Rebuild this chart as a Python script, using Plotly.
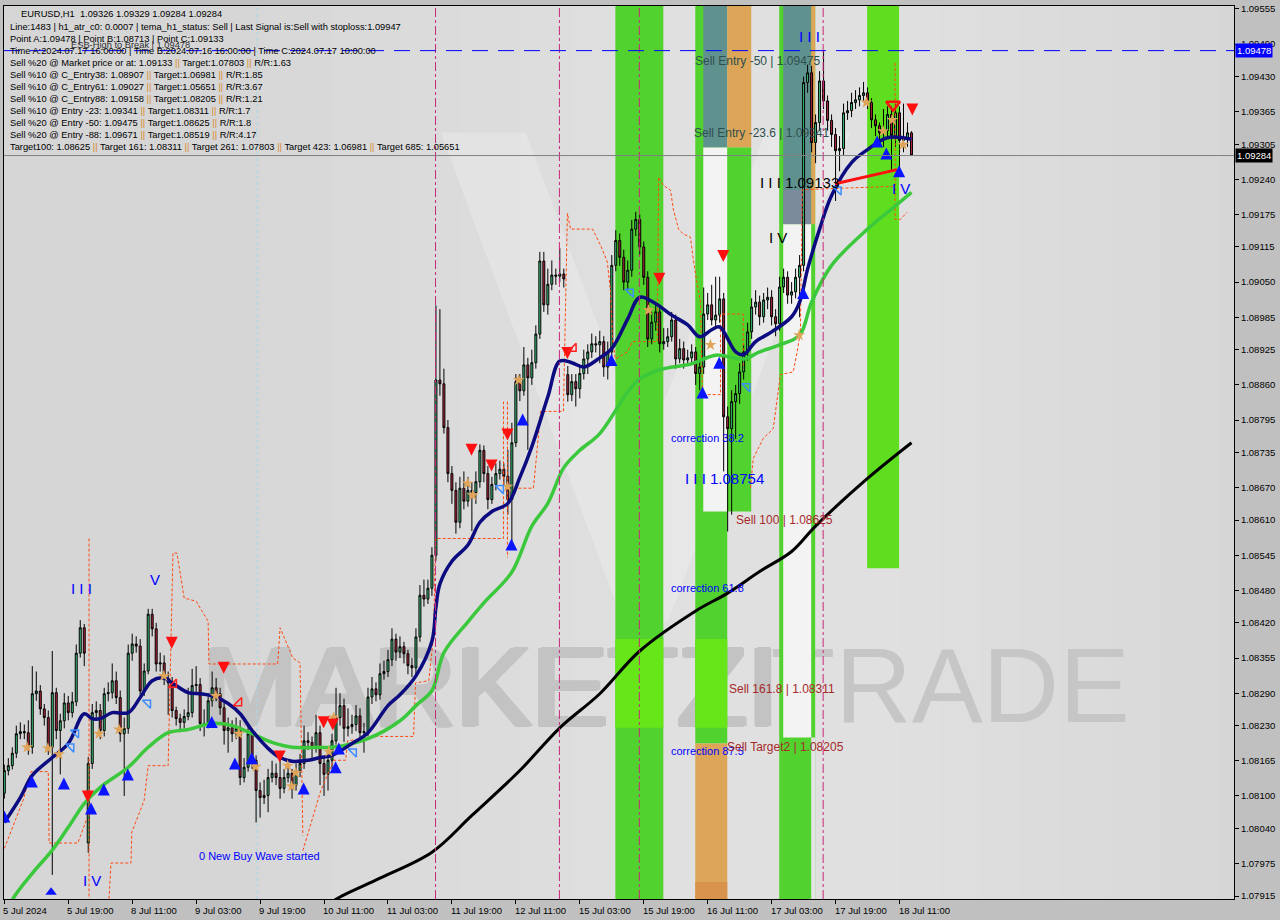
import plotly.graph_objects as go

# ---------------- data ----------------
opens = [1.08105,1.08147,1.08156,1.08179,1.08215,1.08219,1.08217,1.08190,1.08289,1.08294,
 1.08261,1.08245,1.08190,1.08291,1.08221,1.08239,1.08272,1.08254,1.08274,1.08364,
 1.08411,1.08013,1.08160,1.08254,1.08258,1.08221,1.08289,1.08291,1.08313,1.08282,
 1.08215,1.08225,1.08364,1.08381,1.08377,1.08294,1.08331,1.08436,1.08409,1.08344,
 1.08346,1.08318,1.08309,1.08258,1.08243,1.08236,1.08247,1.08254,1.08304,1.08306,
 1.08234,1.08232,1.08276,1.08300,1.08289,1.08263,1.08221,1.08226,1.08215,1.08225,
 1.08134,1.08153,1.08215,1.08166,1.08110,1.08097,1.08101,1.08134,1.08142,1.08134,
 1.08114,1.08134,1.08142,1.08120,1.08147,1.08160,1.08202,1.08199,1.08190,1.08217,
 1.08160,1.08140,1.08166,1.08202,1.08245,1.08267,1.08225,1.08228,1.08232,1.08248,
 1.08217,1.08219,1.08283,1.08298,1.08287,1.08326,1.08330,1.08352,1.08390,1.08366,
 1.08376,1.08363,1.08341,1.08337,1.08394,1.08471,1.08464,1.08484,1.08545,1.08869,
 1.08862,1.08781,1.08696,1.08665,1.08606,1.08669,1.08645,1.08665,1.08661,1.08681,
 1.08739,1.08696,1.08648,1.08676,1.08696,1.08704,1.08691,1.08648,1.08753,1.08866,
 1.08849,1.08897,1.08873,1.08901,1.08954,1.09089,1.09008,1.09046,1.09063,1.09061,
 1.09065,1.08879,1.08842,1.08866,1.08853,1.08881,1.08908,1.08921,1.08936,1.08934,
 1.08940,1.08893,1.08921,1.09081,1.09127,1.09096,1.09050,1.09072,1.09148,1.09166,
 1.09115,1.09059,1.08945,1.08976,1.08995,1.08936,1.08940,1.08949,1.08980,1.08908,
 1.08927,1.08906,1.08910,1.08921,1.08881,1.08893,1.08991,1.09008,1.08980,1.08989,
 1.09019,1.08801,1.08779,1.08829,1.08844,1.08884,1.08921,1.08958,1.09004,1.09013,
 1.08986,1.09017,1.09022,1.08986,1.08973,1.09041,1.09059,1.09026,1.09032,1.09059,
 1.09081,1.09419,1.09437,1.09308,1.09345,1.09422,1.09385,1.09349,1.09323,1.09293,
 1.09297,1.09363,1.09367,1.09382,1.09387,1.09395,1.09400,1.09382,1.09350,1.09339,
 1.09326,1.09330,1.09360,1.09321,1.09363,1.09312,1.09317,1.09326]
highs = [1.08158,1.08170,1.08190,1.08230,1.08236,1.08232,1.08240,1.08340,1.08330,1.08305,
 1.08270,1.08258,1.08368,1.08300,1.08252,1.08290,1.08285,1.08292,1.08380,1.08425,
 1.08418,1.08172,1.08270,1.08275,1.08270,1.08300,1.08310,1.08345,1.08330,1.08295,
 1.08245,1.08380,1.08400,1.08395,1.08390,1.08345,1.08446,1.08446,1.08420,1.08365,
 1.08360,1.08330,1.08320,1.08265,1.08252,1.08260,1.08300,1.08335,1.08340,1.08318,
 1.08260,1.08290,1.08330,1.08318,1.08300,1.08275,1.08245,1.08240,1.08245,1.08240,
 1.08170,1.08232,1.08225,1.08175,1.08125,1.08130,1.08150,1.08165,1.08160,1.08180,
 1.08150,1.08158,1.08150,1.08160,1.08178,1.08230,1.08218,1.08210,1.08250,1.08230,
 1.08170,1.08180,1.08215,1.08300,1.08290,1.08280,1.08262,1.08250,1.08268,1.08262,
 1.08235,1.08300,1.08320,1.08310,1.08345,1.08350,1.08370,1.08410,1.08400,1.08395,
 1.08385,1.08370,1.08355,1.08410,1.08490,1.08500,1.08500,1.08560,1.09007,1.09000,
 1.08890,1.08795,1.08710,1.08680,1.08690,1.08700,1.08690,1.08680,1.08700,1.08750,
 1.08748,1.08710,1.08690,1.08715,1.08720,1.08715,1.08740,1.08790,1.08880,1.08880,
 1.08930,1.08910,1.08925,1.08970,1.09106,1.09106,1.09075,1.09090,1.09075,1.09113,
 1.09075,1.08895,1.08880,1.08880,1.08895,1.08925,1.08935,1.08955,1.08950,1.08960,
 1.08950,1.08940,1.09100,1.09146,1.09140,1.09110,1.09090,1.09165,1.09180,1.09175,
 1.09125,1.09070,1.08995,1.09010,1.09005,1.08965,1.08965,1.08995,1.08990,1.08945,
 1.08940,1.08925,1.08935,1.08930,1.08905,1.09040,1.09030,1.09045,1.09060,1.09060,
 1.09030,1.08820,1.08850,1.08860,1.08900,1.08935,1.08975,1.09020,1.09035,1.09025,
 1.09030,1.09040,1.09035,1.09000,1.09060,1.09075,1.09070,1.09050,1.09075,1.09100,
 1.09430,1.09452,1.09450,1.09360,1.09440,1.09478,1.09395,1.09360,1.09335,1.09320,
 1.09380,1.09385,1.09400,1.09405,1.09410,1.09420,1.09410,1.09390,1.09360,1.09345,
 1.09370,1.09375,1.09375,1.09380,1.09375,1.09380,1.09345,1.09329]
lows = [1.08095,1.08138,1.08149,1.08170,1.08205,1.08205,1.08176,1.08178,1.08276,1.08250,
 1.08230,1.08176,1.07954,1.08205,1.08140,1.08225,1.08240,1.08245,1.08266,1.08356,
 1.08340,1.07995,1.08150,1.08240,1.08205,1.08210,1.08275,1.08280,1.08270,1.08200,
 1.08100,1.08215,1.08350,1.08365,1.08280,1.08285,1.08325,1.08395,1.08330,1.08330,
 1.08305,1.08250,1.08245,1.08230,1.08222,1.08225,1.08240,1.08245,1.08290,1.08220,
 1.08210,1.08225,1.08265,1.08275,1.08250,1.08195,1.08180,1.08200,1.08205,1.08120,
 1.08125,1.08145,1.08150,1.08051,1.08060,1.08085,1.08070,1.08125,1.08120,1.08095,
 1.08105,1.08125,1.08095,1.08110,1.08135,1.08150,1.08185,1.08170,1.08180,1.08120,
 1.08100,1.08110,1.08150,1.08195,1.08230,1.08200,1.08210,1.08215,1.08220,1.08205,
 1.08180,1.08210,1.08270,1.08275,1.08278,1.08315,1.08320,1.08340,1.08350,1.08355,
 1.08345,1.08325,1.08320,1.08325,1.08385,1.08450,1.08455,1.08470,1.08535,1.08840,
 1.08770,1.08680,1.08640,1.08585,1.08595,1.08630,1.08635,1.08590,1.08640,1.08670,
 1.08680,1.08630,1.08640,1.08665,1.08685,1.08675,1.08620,1.08560,1.08745,1.08830,
 1.08840,1.08740,1.08860,1.08890,1.08945,1.08995,1.08990,1.09035,1.09045,1.09050,
 1.09040,1.08829,1.08830,1.08820,1.08835,1.08870,1.08880,1.08910,1.08920,1.08900,
 1.08875,1.08870,1.08910,1.09070,1.09080,1.09035,1.09035,1.09060,1.09135,1.09100,
 1.09045,1.08930,1.08935,1.08960,1.08920,1.08925,1.08930,1.08940,1.08890,1.08900,
 1.08890,1.08895,1.08900,1.08860,1.08850,1.08880,1.08980,1.08970,1.08965,1.08975,
 1.08700,1.08589,1.08620,1.08760,1.08825,1.08870,1.08905,1.08945,1.08990,1.08970,
 1.08975,1.09000,1.08970,1.08950,1.08960,1.09030,1.09010,1.09010,1.09020,1.08985,
 1.09070,1.09400,1.09290,1.09270,1.09330,1.09370,1.09330,1.09300,1.09200,1.09255,
 1.09285,1.09350,1.09355,1.09370,1.09375,1.09385,1.09370,1.09335,1.09320,1.09305,
 1.09300,1.09320,1.09255,1.09300,1.09260,1.09290,1.09300,1.09284]
closes = [1.08147,1.08156,1.08179,1.08215,1.08219,1.08217,1.08190,1.08289,1.08294,1.08261,
 1.08245,1.08190,1.08291,1.08221,1.08239,1.08272,1.08254,1.08274,1.08364,1.08411,
 1.08364,1.08160,1.08254,1.08258,1.08221,1.08289,1.08291,1.08313,1.08282,1.08215,
 1.08225,1.08364,1.08381,1.08377,1.08294,1.08331,1.08436,1.08409,1.08344,1.08346,
 1.08318,1.08309,1.08258,1.08243,1.08236,1.08247,1.08254,1.08304,1.08306,1.08234,
 1.08232,1.08276,1.08300,1.08289,1.08263,1.08221,1.08226,1.08215,1.08225,1.08134,
 1.08153,1.08215,1.08166,1.08110,1.08097,1.08101,1.08134,1.08142,1.08134,1.08114,
 1.08134,1.08142,1.08120,1.08147,1.08160,1.08202,1.08199,1.08190,1.08217,1.08160,
 1.08140,1.08166,1.08202,1.08245,1.08267,1.08225,1.08228,1.08232,1.08248,1.08217,
 1.08219,1.08283,1.08298,1.08287,1.08326,1.08330,1.08352,1.08390,1.08366,1.08376,
 1.08363,1.08341,1.08337,1.08394,1.08471,1.08464,1.08484,1.08545,1.08869,1.08862,
 1.08781,1.08696,1.08665,1.08606,1.08669,1.08645,1.08665,1.08661,1.08681,1.08739,
 1.08696,1.08648,1.08676,1.08696,1.08704,1.08691,1.08648,1.08753,1.08866,1.08849,
 1.08897,1.08873,1.08901,1.08954,1.09089,1.09008,1.09046,1.09063,1.09061,1.09065,
 1.09056,1.08842,1.08866,1.08853,1.08881,1.08908,1.08921,1.08936,1.08934,1.08940,
 1.08893,1.08921,1.09081,1.09127,1.09096,1.09050,1.09072,1.09148,1.09166,1.09115,
 1.09059,1.08945,1.08976,1.08995,1.08936,1.08940,1.08949,1.08980,1.08908,1.08927,
 1.08906,1.08910,1.08921,1.08881,1.08893,1.08991,1.09008,1.08980,1.08989,1.09019,
 1.08801,1.08779,1.08829,1.08844,1.08884,1.08921,1.08958,1.09004,1.09013,1.08986,
 1.09017,1.09022,1.08986,1.08973,1.09041,1.09059,1.09026,1.09032,1.09059,1.09081,
 1.09419,1.09437,1.09308,1.09345,1.09422,1.09385,1.09349,1.09323,1.09293,1.09297,
 1.09363,1.09367,1.09382,1.09387,1.09395,1.09400,1.09382,1.09350,1.09339,1.09326,
 1.09330,1.09360,1.09321,1.09363,1.09312,1.09317,1.09326,1.09284]
bars = list(range(len(closes)))

tick_bars = [0, 16, 32, 48, 64, 80, 96, 112, 128, 144, 160, 176, 192, 208, 224]
tick_labels = ["5 Jul 2024", "5 Jul 19:00", "8 Jul 11:00", "9 Jul 03:00", "9 Jul 19:00",
               "10 Jul 11:00", "11 Jul 03:00", "11 Jul 19:00", "12 Jul 11:00", "15 Jul 03:00",
               "15 Jul 19:00", "16 Jul 11:00", "17 Jul 03:00", "17 Jul 19:00", "18 Jul 11:00"]
price_ticks = [1.09555, 1.09490, 1.09430, 1.09365, 1.09305, 1.09240, 1.09175, 1.09115, 1.09050,
               1.08985, 1.08925, 1.08860, 1.08795, 1.08735, 1.08670, 1.08610, 1.08545, 1.08480,
               1.08420, 1.08355, 1.08290, 1.08230, 1.08165, 1.08100, 1.08040, 1.07975, 1.07915]

navy_idx = [0,4,7,12,16,20,22,24,27,31,34,37,40,42,46,49,52,56,59,62,66,69,72,76,79,82,87,91,96,99,
            103,107,108,109,112,116,119,122,126,129,132,136,139,142,145,149,152,156,159,163,
            167,171,174,177,179,183,185,188,192,197,199,201,204,207,212,216,221,227]
navy_val = [1.08051,1.08097,1.08138,1.08171,1.08197,1.08252,1.08243,1.08243,1.08254,1.08254,
            1.08282,1.08313,1.08318,1.08309,1.08291,1.08289,1.08285,1.08271,1.08252,1.08221,
            1.08188,1.08171,1.08164,1.08166,1.08171,1.08175,1.08197,1.08217,1.08267,1.08287,
            1.08322,1.08386,1.08449,1.08492,1.08534,1.08564,1.08606,1.08626,1.08641,1.08689,
            1.08746,1.08838,1.08904,1.08901,1.08893,1.08910,1.08927,1.08982,1.09022,1.09010,
            1.08989,1.08971,1.08949,1.08962,1.08967,1.08921,1.08916,1.08940,1.08958,1.08986,
            1.09013,1.09074,1.09148,1.09210,1.09271,1.09295,1.09317,1.09314]
green_idx = [0,2,7,12,16,20,24,31,36,41,46,52,57,62,67,72,79,82,91,99,103,107,110,116,120,127,132,
             136,140,144,149,156,159,164,172,178,185,189,194,199,202,207,216,222,227]
green_val = [1.07870,1.07908,1.07957,1.08000,1.08042,1.08086,1.08116,1.08153,1.08190,1.08217,1.08223,
             1.08234,1.08230,1.08215,1.08199,1.08190,1.08190,1.08190,1.08206,1.08239,1.08267,
             1.08295,1.08365,1.08422,1.08457,1.08514,1.08599,1.08641,1.08707,1.08739,1.08770,
             1.08847,1.08871,1.08888,1.08899,1.08915,1.08908,1.08921,1.08934,1.08952,1.09013,
             1.09081,1.09148,1.09185,1.09216]
black_idx = [80,83,94,107,117,129,139,149,159,173,181,189,197,203,216,227]
black_val = [1.07890,1.07909,1.07948,1.07996,1.08064,1.08147,1.08226,1.08289,1.08368,1.08442,
             1.08475,1.08515,1.08552,1.08599,1.08687,1.08753]

orange_idx = [0,4.7,6.7,11,11.2,18.4,20.7,None,21.2,21.2,None,
              26.2,26.7,31.7,31.9,35,36,41,41.4,42.2,43.2,45,48,51,51.2,68.4,69,72.2,74,74.7,None,
              74.7,79.2,82.4,85.4,85.9,93.4,102.4,102.9,106.2,107.4,107.9,124.9,124.9,None,
              125.9,125.9,None,
              127.4,132.4,133.4,134.2,139.9,140.9,141.7,147.2,149.2,150.9,151.7,152.2,152.9,155.9,
              157.2,163.4,163.7,164.9,166.7,167.4,168.7,169.9,171.7,172.4,173.4,174.2,174.7,179.2,
              179.2,184.9,184.9,None,
              186.7,187.4,189.9,192.4,194.2,197.4,198.4,199.2,199.7,222.4,None,
              222.9,222.9,224.2,225.9]
orange_val = [1.08003,1.08092,1.08145,1.08145,1.08013,1.08013,1.08059,None,1.08576,1.07910,None,
              1.07910,1.07976,1.07976,1.08033,1.08092,1.08156,1.08156,1.08276,1.08549,1.08549,1.08466,
              1.08460,1.08423,1.08344,1.08344,1.08411,1.08355,1.08346,1.08027,None,
              1.07999,1.08110,1.08166,1.08166,1.08202,1.08210,1.08210,1.08309,1.08313,1.08394,1.08576,
              1.08576,1.08829,None,
              1.08829,1.08541,None,
              1.08669,1.08669,1.08746,1.08811,1.08811,1.09177,1.09148,1.09148,1.09118,1.09087,1.09032,
              1.08945,1.08908,1.08921,1.08940,1.08940,1.09244,1.09229,1.09220,1.09185,1.09148,1.09139,
              1.09133,1.09092,1.09045,1.09013,1.08842,1.08842,1.08991,1.08991,1.08890,None,
              1.08669,1.08724,1.08761,1.08779,1.08879,1.08884,1.08921,1.08958,1.09221,1.09227,None,
              1.09455,1.09166,1.09166,1.09179]

wave_idx = [207.9, 223.4]
wave_val = [1.09232, 1.09258]

buy_idx = [0, 6.9, 14.9, 21.7, 24.9, 30.9, 51.9, 57.7, 61.9, 74.9, 82.9, 83.7, 126.9, 129.7,
           151.9, 174.7, 178.9, 199.9, 218.4, 220.7, 223.9]
buy_val = [1.08073, 1.08138, 1.08134, 1.08088, 1.08123, 1.08151, 1.08248, 1.08171, 1.08181,
           1.08125, 1.08164, 1.08199, 1.08576, 1.08807, 1.08917, 1.08857, 1.08912, 1.09041,
           1.09321, 1.09299, 1.09266]
sell_idx = [20.9, 41.9, 54.9, 68.9, 79.9, 82.2, 116.9, 121.9, 125.9, 140.9, 163.9, 179.9, 227.2]
sell_val = [1.08088, 1.08372, 1.08326, 1.08162, 1.08225, 1.08221, 1.08729, 1.08700, 1.08757,
            1.08908, 1.09045, 1.09087, 1.09358]
star_idx = [5.7, 10.9, 13.7, 23.7, 28.7, 39.9, 52.9, 58.7, 62.9, 70.9, 72.9, 71.9, 81.2, 82.4,
            115.9, 117.2, 125.9, 128.7, 161.2, 176.7, 198.9, 215.7, 219.9, 222.2, 224.9]
star_val = [1.08190, 1.08188, 1.08177, 1.08215, 1.08223, 1.08322, 1.08285, 1.08215, 1.08154,
            1.08156, 1.08143, 1.08118, 1.08182, 1.08245, 1.08678, 1.08656, 1.08672, 1.08869,
            1.08998, 1.08934, 1.08952, 1.09382, 1.09329, 1.09350, 1.09304]
hollow_buy_idx = [17.9, 16.7, 35.9, 87.4, 124.2, 156.7, 185.9, 208.7]
hollow_buy_val = [1.08217, 1.08191, 1.08272, 1.08182, 1.08669, 1.09032, 1.08857, 1.09221]
hollow_sell_idx = [42.4, 58.7, 142.4]
hollow_sell_val = [1.08306, 1.08272, 1.08927]

zone_x0 = [152.9, 172.9, 172.9, 172.9, 174.9, 174.9, 180.9, 180.9, 193.9, 194.9, 194.9, 201.9, 194.9, 201.9, 215.9, 152.9, 172.9]
zone_x1 = [164.9, 180.9, 180.9, 180.9, 180.9, 180.9, 186.9, 186.9, 202.9, 201.9, 201.9, 202.9, 201.9, 202.9, 223.9, 164.9, 180.9]
zone_y0 = [None, 1.08197, None, None, 1.09299, 1.08626, 1.09299, 1.08626, None, 1.09157, 1.09157, 1.09157, 1.08208, None, 1.08521, 1.08226, 1.08226]
zone_y1 = [None, None, 1.08197, 1.07941, None, 1.09299, None, 1.09299, None, None, 1.09221, None, 1.09157, 1.08208, None, 1.08390, 1.08390]
zone_kind = ["green", "green", "orange", "dorange", "teal", "white", "orange", "green", "green", "teal",
             "slate", "orange", "white", "light", "lime", "lime2", "lime2"]

vline_purple = [107.9, 138.9, 158.9, 204.9]
vline_cyan = [63.2]
level_blue = 1.09478
level_last = 1.09284

chart_labels = [
    ("Sell Entry -50 | 1.09475", 172.4, 1.09459, "entry"),
    ("Sell Entry -23.6 | 1.09341", 172.2, 1.09326, "entry"),
    ("I I I 1.09133", 188.7, 1.09234, "wave_black"),
    ("I V", 190.9, 1.09133, "wave_black"),
    ("I I I", 198.4, 1.09505, "wave_blue"),
    ("correction 38.2", 166.2, 1.08761, "corr"),
    ("I I I 1.08754", 169.9, 1.08687, "wave_blue"),
    ("Sell 100 | 1.08625", 182.7, 1.08610, "target"),
    ("correction 61.8", 166.2, 1.08484, "corr"),
    ("Sell 161.8 | 1.08311", 180.9, 1.08297, "target"),
    ("correction 87.5", 166.2, 1.08184, "corr"),
    ("Sell Target2 | 1.08205", 180.4, 1.08191, "target"),
    ("0 New Buy Wave started", 48.2, 1.07989, "corr"),
    ("I I I", 16.2, 1.08483, "wave_blue"),
    ("V", 35.9, 1.08501, "wave_blue"),
    ("I V", 19.2, 1.07944, "wave_blue"),
    ("I V", 221.7, 1.09223, "wave_blue"),
]

info_lines = [
    "EURUSD,H1  1.09326 1.09329 1.09284 1.09284",
    "Line:1483 | h1_atr_c0: 0.0007 | tema_h1_status: Sell | Last Signal is:Sell with stoploss:1.09947",
    "Point A:1.09478 | Point B:1.08713 | Point C:1.09133",
    "Time A:2024.07.17 16:00:00 | Time B:2024.07.16 16:00:00 | Time C:2024.07.17 10:00:00",
    "Sell %20 @ Market price or at: 1.09133 || Target:1.07803 || R/R:1.63",
    "Sell %10 @ C_Entry38: 1.08907 || Target:1.06981 || R/R:1.85",
    "Sell %10 @ C_Entry61: 1.09027 || Target:1.05651 || R/R:3.67",
    "Sell %10 @ C_Entry88: 1.09158 || Target:1.08205 || R/R:1.21",
    "Sell %10 @ Entry -23: 1.09341 || Target:1.08311 || R/R:1.7",
    "Sell %20 @ Entry -50: 1.09475 || Target:1.08625 || R/R:1.8",
    "Sell %20 @ Entry -88: 1.09671 || Target:1.08519 || R/R:4.17",
    "Target100: 1.08625 || Target 161: 1.08311 || Target 261: 1.07803 || Target 423: 1.06981 || Target 685: 1.05651",
]

# ---------------- styling / layout ----------------
W, H = 1280, 920
ML, MR, MT, MB = 3, 46, 3, 21
PW, PH = W - ML - MR, H - MT - MB
YMIN, YMAX = 1.079095, 1.095605
XMIN, XMAX = -0.08, 307.7
FONT = "Liberation Sans"


def px(xp):
    return (xp - ML) / PW


def py(yp):
    return 1 - (yp - MT) / PH


zone_colors = {"green": "#52d22e", "lime": "#5fde20", "lime2": "#66e619", "orange": "#dca557",
               "dorange": "#d8924c", "teal": "#5f918f", "slate": "#7c8b9b", "white": "#f3f3f3",
               "light": "#e4e4e4"}

fig = go.Figure()
shapes = []

# soft lighter centre of the background (stacked translucent layers)
for a, b, op in [(260, 1220, 0.05), (330, 1160, 0.05), (400, 1110, 0.05), (460, 1060, 0.05),
                 (520, 1020, 0.05), (570, 980, 0.05), (620, 940, 0.05), (670, 900, 0.04)]:
    shapes.append(dict(type="rect", xref="paper", yref="paper", x0=px(a), x1=px(b), y0=0, y1=1,
                       fillcolor="rgba(255,255,255,%.2f)" % op, line=dict(width=0), layer="below"))
# logo V shape
shapes.append(dict(type="path", xref="paper", yref="paper",
                   path="M %f %f L %f %f L %f %f L %f %f L %f %f L %f %f L %f %f Z" % (
                       px(440), py(130), px(525), py(130), px(645), py(450), px(765), py(130),
                       px(850), py(130), px(668), py(620), px(622), py(620)),
                   fillcolor="rgba(255,255,255,0.22)", line=dict(width=0), layer="below"))
# watermark (faux-bold by stacking slightly shifted copies), below every trace
for dx, dy in ((-3, 0), (-1.5, 0), (0, 0), (1.5, 0), (3, 0), (0, -1), (0, 1), (-2, 1), (2, -1)):
    shapes.append(dict(type="rect", xref="paper", yref="paper", x0=px(190 + dx), x1=px(790 + dx),
                       y0=py(727 + dy), y1=py(622 + dy), line=dict(width=0), fillcolor="rgba(0,0,0,0)",
                       layer="below",
                       label=dict(text="MARKETZI", font=dict(family=FONT, size=114, color="#c3c3c3"),
                                  textposition="middle center")))
shapes.append(dict(type="rect", xref="paper", yref="paper", x0=px(790), x1=px(1110), y0=py(727), y1=py(622),
                   line=dict(width=0), fillcolor="rgba(0,0,0,0)", layer="below",
                   label=dict(text="TRADE", font=dict(family=FONT, size=106, color="#c6c6c6"),
                              textposition="middle center")))

for xv in vline_purple:
    shapes.append(dict(type="line", xref="x", yref="paper", x0=xv, x1=xv, y0=0, y1=1,
                       line=dict(color="#c8287a", width=1, dash="dashdot"), layer="above"))
for xv in vline_cyan:
    shapes.append(dict(type="line", xref="x", yref="paper", x0=xv, x1=xv, y0=0, y1=1,
                       line=dict(color="#a9d9e6", width=1, dash="dot"), layer="below"))

shapes.append(dict(type="line", xref="paper", yref="y", x0=0, x1=1, y0=level_blue, y1=level_blue,
                   line=dict(color="#0000ff", width=1, dash="16px,10px"), layer="above"))
shapes.append(dict(type="line", xref="paper", yref="y", x0=0, x1=1, y0=level_last, y1=level_last,
                   line=dict(color="#808080", width=1), layer="above"))

# zones as bars (bar layer sits beneath candlesticks)
for x0, x1, y0, y1, k in zip(zone_x0, zone_x1, zone_y0, zone_y1, zone_kind):
    yb = YMIN if y0 is None else y0
    yt = YMAX if y1 is None else y1
    fig.add_trace(go.Bar(x=[(x0 + x1) / 2], y=[yt - yb], base=[yb], width=[x1 - x0],
                         marker=dict(color=zone_colors[k], line=dict(width=0)), hoverinfo="skip"))

fig.add_trace(go.Candlestick(x=bars, open=opens, high=highs, low=lows, close=closes,
                             increasing=dict(line=dict(color="black", width=1), fillcolor="#3cc47a"),
                             decreasing=dict(line=dict(color="black", width=1), fillcolor="#b3263c"),
                             whiskerwidth=0, hoverinfo="skip"))
fig.add_trace(go.Scatter(x=orange_idx, y=orange_val, mode="lines", connectgaps=False,
                         line=dict(color="#ff4a12", width=1, dash="3px,2px"), hoverinfo="skip"))
fig.add_trace(go.Scatter(x=black_idx, y=black_val, mode="lines", line=dict(color="black", width=3, shape="spline"),
                         hoverinfo="skip"))
fig.add_trace(go.Scatter(x=green_idx, y=green_val, mode="lines", line=dict(color="#3cc83c", width=3.5, shape="spline"),
                         hoverinfo="skip"))
fig.add_trace(go.Scatter(x=navy_idx, y=navy_val, mode="lines", line=dict(color="#0c0c80", width=3.5, shape="spline"),
                         hoverinfo="skip"))
fig.add_trace(go.Scatter(x=wave_idx, y=wave_val, mode="lines", line=dict(color="#ff1010", width=3),
                         hoverinfo="skip"))
fig.add_trace(go.Scatter(x=star_idx, y=star_val, mode="markers",
                         marker=dict(symbol="star", size=9, color="#e0a458"), hoverinfo="skip"))
fig.add_trace(go.Scatter(x=buy_idx, y=buy_val, mode="markers",
                         marker=dict(symbol="arrow-up", size=12, color="#0a14ff", line=dict(width=0)), hoverinfo="skip"))
fig.add_trace(go.Scatter(x=sell_idx, y=sell_val, mode="markers",
                         marker=dict(symbol="arrow-down", size=12, color="#ff1010", line=dict(width=0)), hoverinfo="skip"))
fig.add_trace(go.Scatter(x=hollow_buy_idx, y=hollow_buy_val, mode="markers",
                         marker=dict(symbol="triangle-ne-open", size=9, color="#3d8cff", line=dict(width=1.5)),
                         hoverinfo="skip"))
fig.add_trace(go.Scatter(x=hollow_sell_idx, y=hollow_sell_val, mode="markers",
                         marker=dict(symbol="triangle-se-open", size=9, color="#ff2020", line=dict(width=1.5)),
                         hoverinfo="skip"))
fig.add_trace(go.Scatter(x=[222.4], y=[1.09378], mode="markers",
                         marker=dict(symbol="triangle-down-open", size=12, color="#ff1010", line=dict(width=2.5)),
                         hoverinfo="skip"))
fig.add_trace(go.Scatter(x=[11.7], y=[1.07922], mode="markers",
                         marker=dict(symbol="triangle-up", size=10, color="#0a14ff"), hoverinfo="skip"))

annotations = []
label_style = {
    "entry": dict(color="#2f4f4f", size=12),
    "wave_black": dict(color="black", size=15),
    "wave_blue": dict(color="#0000ff", size=15),
    "corr": dict(color="#0000ff", size=11),
    "target": dict(color="#a52a2a", size=12),
}
for text, xi, yv, st in chart_labels:
    s = label_style[st]
    annotations.append(dict(x=xi, y=yv, xref="x", yref="y", text=text, showarrow=False,
                            xanchor="left", yanchor="middle",
                            font=dict(family=FONT, size=s["size"], color=s["color"])))

sep2 = "<span style='color:#d88a2c'>||</span>"
for k, line in enumerate(info_lines):
    yline = 11 if k == 0 else 24 + 12 * (k - 1)
    xline = 18 if k == 0 else 7
    txt = line.replace("||", sep2)
    annotations.append(dict(x=px(xline), y=py(yline), xref="paper", yref="paper", text=txt,
                            showarrow=False, xanchor="left", yanchor="middle",
                            font=dict(family=FONT, size=9.3, color="black")))
annotations.append(dict(x=px(68), y=py(42), xref="paper", yref="paper", text="ESB-High to Break | 1.09478",
                        showarrow=False, xanchor="left", yanchor="middle",
                        font=dict(family=FONT, size=9.3, color="#303030")))

for tb, tl in zip(tick_bars, tick_labels):
    annotations.append(dict(x=tb, y=0, xref="x", yref="paper", text=tl, showarrow=False,
                            xanchor="left", yanchor="top", xshift=-3, yshift=-4,
                            font=dict(family=FONT, size=9.5, color="black")))

annotations.append(dict(x=1, y=level_blue, xref="paper", yref="y", text="1.09478", showarrow=False,
                        xanchor="left", yanchor="middle", xshift=1, bgcolor="#0000ff", borderpad=1,
                        font=dict(family=FONT, size=9.5, color="white")))
annotations.append(dict(x=1, y=level_last, xref="paper", yref="y", text="1.09284", showarrow=False,
                        xanchor="left", yanchor="middle", xshift=1, bgcolor="#000000", borderpad=1,
                        font=dict(family=FONT, size=9.5, color="white")))

fig.update_layout(
    width=W, height=H, margin=dict(l=ML, r=MR, t=MT, b=MB, pad=0),
    paper_bgcolor="#c0c0c0", plot_bgcolor="#d6d6d6", showlegend=False, barmode="overlay",
    shapes=shapes, annotations=annotations,
    xaxis=dict(range=[XMIN, XMAX], showgrid=False, zeroline=False, showline=True, linecolor="black",
               linewidth=1, mirror=True, ticks="outside", ticklen=4, tickcolor="black",
               tickvals=tick_bars, showticklabels=False, rangeslider=dict(visible=False)),
    yaxis=dict(range=[YMIN, YMAX], side="right", showgrid=False, zeroline=False, showline=True,
               linecolor="black", linewidth=1, mirror=True, ticks="outside", ticklen=4, tickcolor="black",
               tickvals=price_ticks, ticktext=["%.5f" % v for v in price_ticks],
               tickfont=dict(family=FONT, size=9.5, color="black")),
)

fig.write_html("out.html", config={"displayModeBar": False},
               post_script="document.body.style.margin='0';document.body.style.padding='0';")
